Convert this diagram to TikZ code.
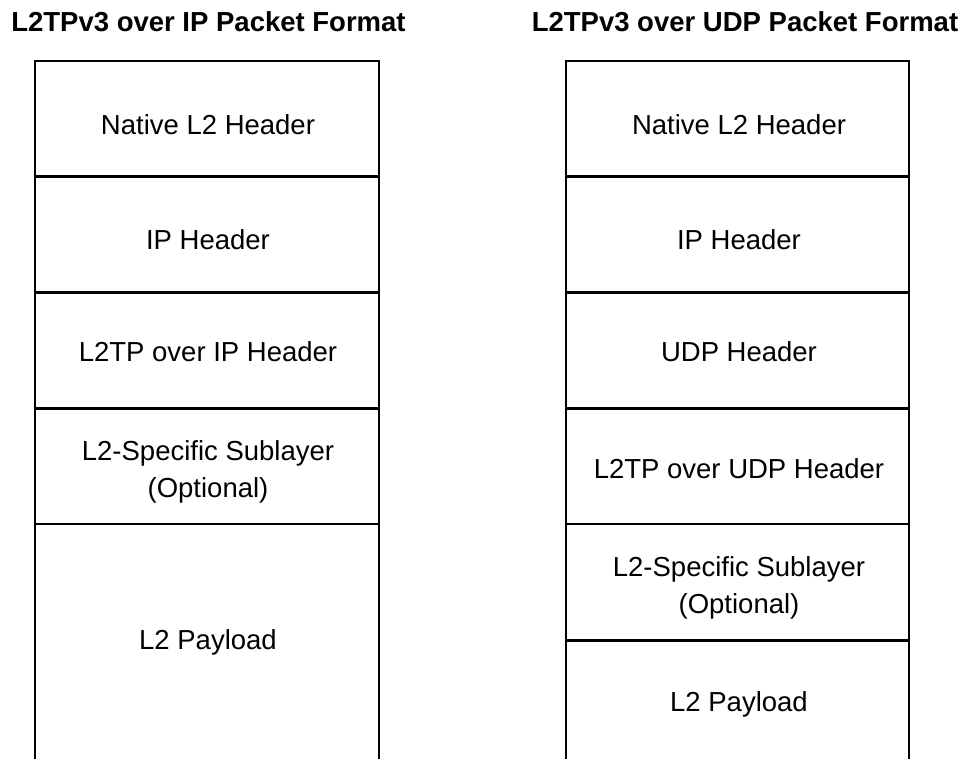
\documentclass[tikz,border=0pt]{standalone}
\usepackage{fontspec}
\setmainfont{Liberation Sans}
\begin{document}
\begin{tikzpicture}[x=1pt,y=-1pt,
  frame/.style={line width=2.3pt,line cap=rect},
  cell/.style={inner sep=0pt,align=center,font=\fontsize{27.5}{37}\selectfont},
  heading/.style={inner sep=0pt,font=\fontsize{27.5}{33}\selectfont\bfseries}]
\useasboundingbox[fill=white] (0,0) rectangle (960,759);

% headings
\node[heading] (t1) at (208.5,22) {L2TPv3 over IP Packet Format};
\node[heading] (t2) at (745,22) {L2TPv3 over UDP Packet Format};

% left stack: L2TPv3 over IP
\coordinate (la0) at (35,61);
\coordinate (lb0) at (379,61);
\coordinate (la1) at (35,176.5);
\coordinate (lb1) at (379,176.5);
\coordinate (la2) at (35,292.5);
\coordinate (lb2) at (379,292.5);
\coordinate (la3) at (35,408.5);
\coordinate (lb3) at (379,408.5);
\coordinate (la4) at (35,524);
\coordinate (lb4) at (379,524);
\coordinate (laE) at (35,760);
\coordinate (lbE) at (379,760);

\node[cell] (l1) at (208,124.5) {Native L2 Header};
\node[cell] (l2) at (208,240) {IP Header};
\node[cell] (l3) at (208,352) {L2TP over IP Header};
\node[cell] (l4) at (208,472) {L2-Specific Sublayer\\(Optional)};
\node[cell] (l5) at (208,642.5) {L2 Payload};

\draw[frame] (laE) -- (la0) -- (lb0) -- (lbE);
\foreach \i in {1,2,3,4} \draw[frame] (la\i) -- (lb\i);

% right stack: L2TPv3 over UDP
\coordinate (ra0) at (566,61);
\coordinate (rb0) at (909,61);
\coordinate (ra1) at (566,176.5);
\coordinate (rb1) at (909,176.5);
\coordinate (ra2) at (566,292.5);
\coordinate (rb2) at (909,292.5);
\coordinate (ra3) at (566,408.5);
\coordinate (rb3) at (909,408.5);
\coordinate (ra4) at (566,524);
\coordinate (rb4) at (909,524);
\coordinate (ra5) at (566,640.5);
\coordinate (rb5) at (909,640.5);
\coordinate (raE) at (566,760);
\coordinate (rbE) at (909,760);

\node[cell] (r1) at (739,124.5) {Native L2 Header};
\node[cell] (r2) at (739,240) {IP Header};
\node[cell] (r3) at (739,352) {UDP Header};
\node[cell] (r4) at (739,469) {L2TP over UDP Header};
\node[cell] (r5) at (739,588) {L2-Specific Sublayer\\(Optional)};
\node[cell] (r6) at (739,704.5) {L2 Payload};

\draw[frame] (raE) -- (ra0) -- (rb0) -- (rbE);
\foreach \i in {1,2,3,4,5} \draw[frame] (ra\i) -- (rb\i);
\end{tikzpicture}
\end{document}
